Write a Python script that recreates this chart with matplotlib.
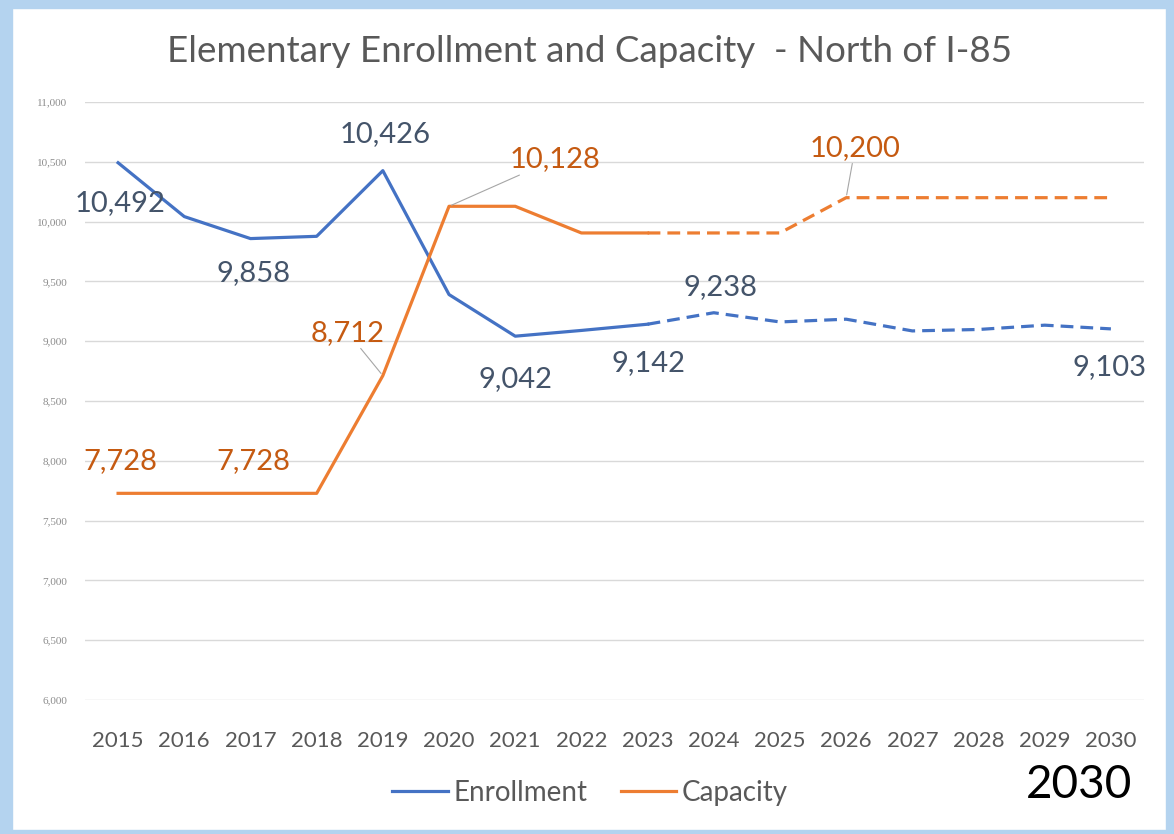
import matplotlib
matplotlib.use("Agg")
import matplotlib.pyplot as plt
from matplotlib.patches import Rectangle

years = list(range(2015, 2031))
enrollment = [10492, 10042, 9858, 9877, 10426, 9390, 9042, 9090, 9142,
              9238, 9161, 9184, 9086, 9098, 9134, 9103]
capacity = [7728, 7728, 7728, 7728, 8712, 10128, 10128, 9905, 9905,
            9905, 9905, 10200, 10200, 10200, 10200, 10200]
split_year = 2023
y_ticks = list(range(6000, 11001, 500))

title = "Elementary Enrollment and Capacity  - North of I-85"

# labels: (year, text, dx_px, dy_px, leader)
enr_labels = [(2015, "10,492", 2, -40, False), (2017, "9,858", 3, -34, False),
              (2019, "10,426", 2, 37, False), (2021, "9,042", 0, -43, False),
              (2023, "9,142", 1, -39, False), (2024, "9,238", 7, 26, False),
              (2030, "9,103", -1, -38, False)]
cap_labels = [(2015, "7,728", 2, 32, False), (2017, "7,728", 3, 32, False),
              (2019, "8,712", -35, 43, True), (2020, "10,128", 106, 47, True),
              (2026, "10,200", 9, 50, True)]

BLUE = "#4472C4"
ORANGE = "#ED7D31"
BLUE_TXT = "#44546A"
ORANGE_TXT = "#C55A11"
GRAY = "#595959"

plt.rcParams['font.family'] = ['Lato', 'DejaVu Sans']

fig = plt.figure(figsize=(11.74, 8.34), dpi=100)
fig.patch.set_facecolor("white")

# light blue frame
bc = "#B4D3EF"
fig.add_artist(Rectangle((0, 0), 12/1174, 1, transform=fig.transFigure, color=bc, zorder=0))
fig.add_artist(Rectangle((1 - 8/1174, 0), 8/1174, 1, transform=fig.transFigure, color=bc, zorder=0))
fig.add_artist(Rectangle((0, 1 - 8/834), 1, 8/834, transform=fig.transFigure, color=bc, zorder=0))
fig.add_artist(Rectangle((0, 0), 1, 4/834, transform=fig.transFigure, color=bc, zorder=0))

ax = fig.add_axes([85/1174, 1 - 700/834, (1144 - 85)/1174, (700 - 102)/834])
x = list(range(len(years)))
si = years.index(split_year)

dash = (0, (4, 2.2))
ax.plot(x[:si + 1], enrollment[:si + 1], color=BLUE, lw=2.3, solid_joinstyle='round', zorder=3)
ax.plot(x[si:], enrollment[si:], color=BLUE, lw=2.3, ls=dash, zorder=3)
ax.plot(x[:si + 1], capacity[:si + 1], color=ORANGE, lw=2.3, solid_joinstyle='round', zorder=3)
ax.plot(x[si:], capacity[si:], color=ORANGE, lw=2.3, ls=dash, zorder=3)

# legend proxies
ax.plot([], [], color=BLUE, lw=2.3, label="Enrollment")
ax.plot([], [], color=ORANGE, lw=2.3, label="Capacity")

ax.set_xlim(-0.5, len(years) - 0.5)
ax.set_ylim(6000, 11000)
ax.set_yticks(y_ticks)
ax.set_yticklabels([f"{v:,}" for v in y_ticks], fontsize=8, color="#8C8C8C",
                   family=['Liberation Serif'])
ax.set_xticks(x)
ax.set_xticklabels([str(y) for y in years], fontsize=16, color=GRAY)
ax.tick_params(axis='both', length=0)
ax.tick_params(axis='y', pad=13)
ax.tick_params(axis='x', pad=22)
ax.grid(axis='y', color="#D9D9D9", lw=1)
ax.set_axisbelow(True)
for s in ax.spines.values():
    s.set_visible(False)


def put(series, items, color):
    for yr, txt, dx, dy, leader in items:
        i = years.index(yr)
        ap = dict(arrowstyle='-', color="#A6A6A6", lw=0.8, shrinkA=0, shrinkB=2) if leader else None
        ax.annotate(txt, (i, series[i]), xytext=(dx, dy), textcoords='offset pixels',
                    ha='center', va='center', fontsize=21, color=color,
                    arrowprops=ap, zorder=4)


put(enrollment, enr_labels, BLUE_TXT)
put(capacity, cap_labels, ORANGE_TXT)

fig.text(590/1174, 1 - 52/834, title, ha='center', va='center', fontsize=26.5, color=GRAY)

leg = fig.legend(loc='center', bbox_to_anchor=(590/1174, 1 - 793/834), ncol=2, frameon=False,
                 fontsize=20, handlelength=2.0, handletextpad=0.2, columnspacing=1.2)
for t in leg.get_texts():
    t.set_color(GRAY)

fig.text(1079/1174, 1 - 785/834, "2030", ha='center', va='center', fontsize=33, color="black")

fig.savefig("out.png", dpi=100)
